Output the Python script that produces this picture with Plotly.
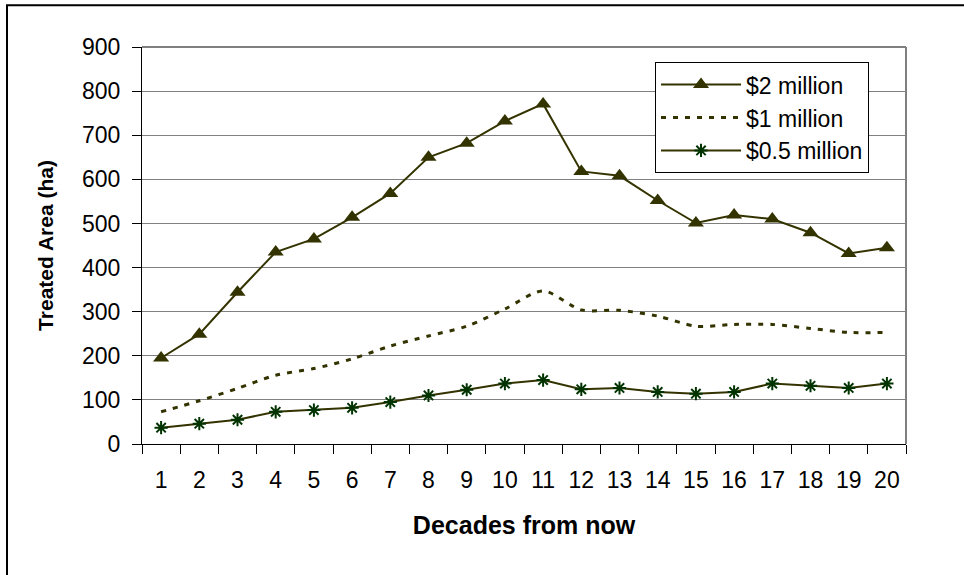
import plotly.graph_objects as go

# Treated area per decade under three annual budget levels
decades = [str(d) for d in range(1, 21)]
budget_2m = [195, 249, 344, 435, 465, 514, 568, 650, 682, 732,
             771, 618, 608, 552, 501, 519, 510, 479, 432, 445]
budget_1m = [73, 98, 126, 156, 171, 193, 222, 245, 267, 306,
             347, 304, 303, 290, 267, 271, 271, 262, 253, 253]
budget_05m = [37, 46, 55, 73, 77, 82, 95, 110, 123, 137,
              145, 124, 127, 118, 114, 118, 137, 132, 127, 137]

y_ticks = list(range(0, 1000, 100))

OLIVE = "#333300"
GREEN = "#003300"
FONT = "Liberation Sans, Arial, sans-serif"

fig = go.Figure()

fig.add_trace(go.Scatter(
    x=decades, y=budget_2m, name="$2 million", mode="lines+markers",
    line=dict(color=OLIVE, width=2),
    marker=dict(symbol="triangle-up", size=14, color=OLIVE),
))
fig.add_trace(go.Scatter(
    x=decades, y=budget_1m, name="$1 million", mode="lines",
    line=dict(color=OLIVE, width=3, dash="5px,7px", shape="spline", smoothing=0.8),
))
fig.add_trace(go.Scatter(
    x=decades, y=budget_05m, name="$0.5 million", mode="lines+markers",
    line=dict(color=OLIVE, width=2),
    marker=dict(symbol="asterisk-open", size=11, color=GREEN,
                line=dict(color=GREEN, width=2)),
))

fig.update_layout(
    width=964, height=575,
    margin=dict(l=142, r=58, t=47, b=131),
    paper_bgcolor="white", plot_bgcolor="white",
    font=dict(family=FONT, color="black", size=23),
    showlegend=True,
    legend=dict(
        x=0.6715, y=0.822, xanchor="left", yanchor="middle",
        bgcolor="white", bordercolor="black", borderwidth=1,
        font=dict(family=FONT, size=23, color="black"),
        tracegroupgap=0, itemwidth=80,
    ),
    xaxis=dict(
        type="category", tickson="boundaries",
        range=[-0.5, len(decades) - 0.5],
        ticks="outside", ticklen=9, tickcolor="black", tickwidth=1,
        showline=True, linecolor="black", linewidth=1,
        showgrid=False, zeroline=False,
        ticklabelstandoff=15,
        tickfont=dict(family=FONT, size=23),
        title=dict(text="<b>Decades from now</b>",
                   font=dict(family=FONT, size=25), standoff=24),
    ),
    yaxis=dict(
        range=[0, 900], tickvals=y_ticks,
        ticks="outside", ticklen=9, tickcolor="black", tickwidth=1,
        showline=True, linecolor="black", linewidth=1,
        showgrid=True, gridcolor="#808080", gridwidth=1,
        zeroline=False,
        ticklabelstandoff=7,
        tickfont=dict(family=FONT, size=23),
        title=dict(text="<b>Treated Area (ha)</b>",
                   font=dict(family=FONT, size=21), standoff=22),
    ),
    shapes=[
        # plot-area frame on the top and right
        dict(type="line", xref="paper", yref="paper", x0=0, x1=1, y0=1, y1=1,
             line=dict(color="#808080", width=2)),
        dict(type="line", xref="paper", yref="paper", x0=1, x1=1, y0=0, y1=1,
             line=dict(color="#808080", width=2)),
        # chart-area border
        dict(type="rect", xref="paper", yref="paper",
             x0=-0.1767, x1=1.4, y0=-0.5, y1=1.105,
             line=dict(color="black", width=2), layer="below"),
    ],
)

fig.write_html("out.html")
